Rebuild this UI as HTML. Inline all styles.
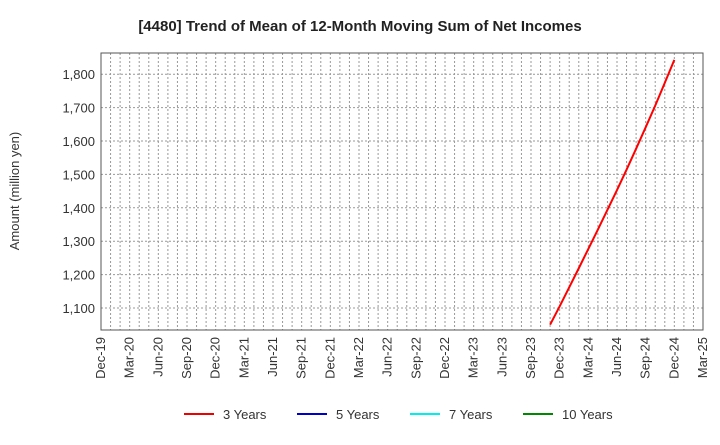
<!DOCTYPE html>
<html><head><meta charset="utf-8"><style>
body{margin:0;background:#fff;font-family:"Liberation Sans",sans-serif}
</style></head><body>
<svg width="720" height="440" xmlns="http://www.w3.org/2000/svg" font-family="Liberation Sans, sans-serif">
<text x="360" y="31" text-anchor="middle" font-size="15" font-weight="bold" fill="#222">[4480]  Trend of Mean of 12-Month Moving Sum of Net Incomes</text>
<text transform="translate(19,191) rotate(-90)" text-anchor="middle" font-size="13" fill="#333">Amount (million yen)</text>
<g id="grid"></g><g id="axes"></g><g id="series"></g>
<g font-size="13" fill="#333">
<line x1="184" y1="414" x2="214" y2="414" stroke="#e00" stroke-width="2"/><text x="223" y="419">3 Years</text>
<line x1="297" y1="414" x2="327" y2="414" stroke="#00c" stroke-width="2"/><text x="336" y="419">5 Years</text>
<line x1="410" y1="414" x2="440" y2="414" stroke="#0ee" stroke-width="2"/><text x="449" y="419">7 Years</text>
<line x1="523" y1="414" x2="553" y2="414" stroke="#080" stroke-width="2"/><text x="562" y="419">10 Years</text>
</g>
</svg>
<script>
const yTicks=[1100,1200,1300,1400,1500,1600,1700,1800];
const xLabels=["Dec-19","Mar-20","Jun-20","Sep-20","Dec-20","Mar-21","Jun-21","Sep-21","Dec-21","Mar-22","Jun-22","Sep-22","Dec-22","Mar-23","Jun-23","Sep-23","Dec-23","Mar-24","Jun-24","Sep-24","Dec-24","Mar-25"];
const startMonth=47; // months after Dec-19 (Nov-23)
const values3=[1050,1105,1162,1219,1277,1335,1394,1453,1514,1577,1641,1706,1774,1843];
const L=101,R=703,T=53,B=330;
const x=m=>L+(R-L)*m/63;
const y=v=>308-(v-1100)*0.334;
const NS="http://www.w3.org/2000/svg";
function mk(t,a,p){const e=document.createElementNS(NS,t);for(const k in a)e.setAttribute(k,a[k]);p.appendChild(e);return e;}
const g=document.getElementById('grid'),ax=document.getElementById('axes'),s=document.getElementById('series');
for(let m=1;m<63;m++){const l=mk('line',{x1:x(m),x2:x(m),y1:T,y2:B,stroke:'#999','stroke-width':1,'stroke-dasharray':'2,2'},g);

}
yTicks.forEach(v=>{const l=mk('line',{x1:L,x2:R,y1:y(v),y2:y(v),stroke:'#999','stroke-width':1,'stroke-dasharray':'2,2'},g);


const t=mk('text',{x:L-6,y:y(v)+5,'text-anchor':'end','font-size':13,fill:'#333'},ax);t.textContent=v.toLocaleString('en-US');

});
const fr=mk('rect',{x:L,y:T,width:R-L,height:B-T,fill:'none',stroke:'#555','stroke-width':1},ax);


xLabels.forEach((lb,i)=>{const xx=x(i*3);const t=mk('text',{transform:`translate(${xx+4},337) rotate(-90)`,'text-anchor':'end','font-size':13,fill:'#333'},ax);t.textContent=lb;

});
const p=mk('polyline',{points:values3.map((v,i)=>x(startMonth+i)+','+y(v)).join(' '),fill:'none',stroke:'#f00','stroke-width':2},s);


</script>
</body></html>
